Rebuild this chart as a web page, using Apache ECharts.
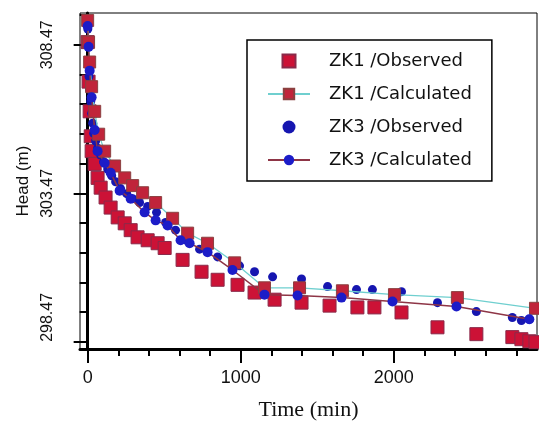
<!DOCTYPE html>
<html>
<head>
<meta charset="utf-8">
<script src="https://cdn.jsdelivr.net/npm/echarts@6/dist/echarts.min.js"></script>
<style>
  html, body { margin: 0; padding: 0; background: #fff; }
  #main { width: 539px; height: 423px; }
</style>
</head>
<body>
<div id="main"></div>
<script>
// ZK1 observed heads (red squares, no line)
const zk1ObsTime = [0, 6, 13, 20, 26, 46, 65, 85, 117, 150, 196, 242, 281, 326, 392, 457, 503, 620, 744, 849, 979, 1090, 1221, 1397, 1580, 1762, 1873, 2050, 2285, 2539, 2774, 2833, 2885, 2925];
const zk1ObsHead = [308.56, 307.23, 306.23, 305.39, 304.89, 304.46, 303.99, 303.66, 303.33, 302.99, 302.66, 302.46, 302.23, 301.99, 301.89, 301.79, 301.63, 301.23, 300.83, 300.56, 300.39, 300.13, 299.89, 299.79, 299.69, 299.63, 299.63, 299.46, 298.96, 298.73, 298.63, 298.56, 298.49, 298.46];

// ZK1 calculated (cyan line)
const zk1CalTime = [0, 6, 13, 26, 46, 72, 111, 176, 242, 294, 359, 444, 555, 653, 783, 960, 1155, 1384, 1664, 2004, 2415, 2925];
const zk1CalHead = [309.29, 308.56, 307.89, 307.06, 306.23, 305.46, 304.89, 304.39, 303.99, 303.73, 303.49, 303.16, 302.63, 302.13, 301.79, 301.13, 300.29, 300.29, 300.19, 300.06, 299.96, 299.6];

// ZK3 observed heads (blue dots, no line)
const zk3ObsTime = [1, 3, 6, 9, 13, 20, 26, 33, 39, 52, 65, 85, 104, 131, 157, 183, 215, 255, 294, 339, 392, 450, 509, 574, 646, 731, 849, 992, 1090, 1208, 1397, 1567, 1756, 1860, 2050, 2285, 2539, 2774, 2833, 2885];
const zk3ObsHead = [309.0, 308.5, 307.9, 307.4, 306.96, 306.56, 306.16, 305.83, 305.49, 305.23, 304.99, 304.76, 304.53, 304.29, 304.06, 303.86, 303.63, 303.46, 303.29, 303.16, 303.03, 302.83, 302.49, 302.23, 301.89, 301.59, 301.33, 301.03, 300.83, 300.66, 300.59, 300.33, 300.23, 300.23, 300.16, 299.79, 299.49, 299.29, 299.19, 299.23];

// ZK3 calculated (dark red line)
const zk3CalTime = [0, 6, 13, 26, 46, 65, 111, 150, 209, 281, 372, 444, 522, 607, 666, 783, 946, 1155, 1371, 1658, 1991, 2409, 2885];
const zk3CalHead = [309.1, 308.4, 307.6, 306.7, 305.6, 304.89, 304.49, 304.16, 303.56, 303.29, 302.83, 302.56, 302.39, 301.89, 301.79, 301.49, 300.89, 300.06, 300.03, 299.96, 299.83, 299.66, 299.23];

// axis ticks and labels
const xLabelTicks = [0, 1000, 2000];
const xMinorTicks = [200, 400, 600, 800, 1200, 1400, 1600, 1800, 2200, 2400, 2600, 2800];
const yLabelTicks = [298.47, 303.47, 308.47];
const yMinorTicks = [299.47, 300.47, 301.47, 302.47, 304.47, 305.47, 306.47, 307.47, 309.47];

const seriesNames = ['ZK1 /Observed', 'ZK1 /Calculated', 'ZK3 /Observed', 'ZK3 /Calculated'];

function pairs(xs, ys) {
  return xs.map((x, i) => [x, ys[i]]);
}

const chart = echarts.init(document.getElementById('main'));

const xRange = { min: -50, max: 2935 };
const yRange = { min: 298.23, max: 309.54 };
const squareIcon = 'path://M0,0H10V10H0Z';

let option = {
  animation: false,
  backgroundColor: '#fff',
  grid: {
    left: 80, top: 13, right: 2, bottom: 74,
    outerBoundsMode: 'none',
    show: true, borderColor: '#000', borderWidth: 1, backgroundColor: 'transparent'
  },
  legend: {
    orient: 'vertical',
    left: 247, top: 40,
    padding: [12, 20, 12, 20],
    itemGap: 15,
    itemWidth: 42,
    itemHeight: 13,
    backgroundColor: '#fff',
    borderColor: '#000',
    borderWidth: 1.5,
    borderRadius: 0,
    textStyle: { fontFamily: 'DejaVu Sans', fontSize: 18, color: '#111', padding: [0, 0, 0, 14] },
    data: seriesNames
  },
  xAxis: [
    {
      type: 'value', ...xRange,
      name: 'Time (min)', nameLocation: 'middle', nameGap: 50,
      nameTextStyle: { fontFamily: 'Liberation Serif', fontSize: 22, color: '#111' },
      axisLine: { show: true, lineStyle: { color: '#000', width: 3 } },
      axisTick: { show: true, customValues: xLabelTicks, length: 14, lineStyle: { color: '#000', width: 2 } },
      axisLabel: {
        customValues: xLabelTicks, margin: 20,
        fontFamily: 'Liberation Sans', fontSize: 18, color: '#111',
        formatter: v => String(v)
      },
      splitLine: { show: false }
    },
    {
      type: 'value', ...xRange, position: 'bottom',
      axisLine: { show: false },
      axisTick: { show: true, customValues: xMinorTicks, length: 7, lineStyle: { color: '#000', width: 2 } },
      axisLabel: { show: false },
      splitLine: { show: false }
    }
  ],
  yAxis: [
    {
      type: 'value', ...yRange,
      name: 'Head (m)', nameLocation: 'middle', nameGap: 46,
      nameTextStyle: { fontFamily: 'Liberation Sans', fontSize: 17, color: '#111' },
      axisLine: { show: true, lineStyle: { color: '#000', width: 3 } },
      axisTick: { show: true, customValues: yLabelTicks, length: 14, lineStyle: { color: '#000', width: 2 } },
      axisLabel: {
        customValues: yLabelTicks, rotate: 90, margin: 24, alignMinLabel: 'left',
        fontFamily: 'Liberation Sans', fontSize: 16, color: '#111',
        formatter: v => v.toFixed(2)
      },
      splitLine: { show: false }
    },
    {
      type: 'value', ...yRange, position: 'left',
      axisLine: { show: false },
      axisTick: { show: true, customValues: yMinorTicks, length: 8, lineStyle: { color: '#000', width: 2 } },
      axisLabel: { show: false },
      splitLine: { show: false }
    }
  ],
  series: [
    {
      name: seriesNames[0], type: 'scatter',
      symbol: squareIcon, symbolKeepAspect: true, symbolSize: 13,
      itemStyle: { color: '#cc1236', borderColor: '#8a2a4a', borderWidth: 1, opacity: 1 },
      data: pairs(zk1ObsTime, zk1ObsHead)
    },
    {
      name: seriesNames[1], type: 'line',
      symbol: 'rect', symbolSize: 12,
      lineStyle: { color: '#6fcfcf', width: 1.3 },
      itemStyle: { color: '#c0243a', borderColor: '#8b4040', borderWidth: 1 },
      data: pairs(zk1CalTime, zk1CalHead)
    },
    {
      name: seriesNames[2], type: 'scatter',
      symbol: 'circle', symbolSize: 9,
      itemStyle: { color: '#1616b0', opacity: 1 },
      data: pairs(zk3ObsTime, zk3ObsHead)
    },
    {
      name: seriesNames[3], type: 'line',
      symbol: 'circle', symbolSize: 10,
      lineStyle: { color: '#8e3546', width: 1.5 },
      itemStyle: { color: '#1c1cc8' },
      data: pairs(zk3CalTime, zk3CalHead)
    }
  ]
};

chart.setOption(option);
</script>
</body>
</html>
